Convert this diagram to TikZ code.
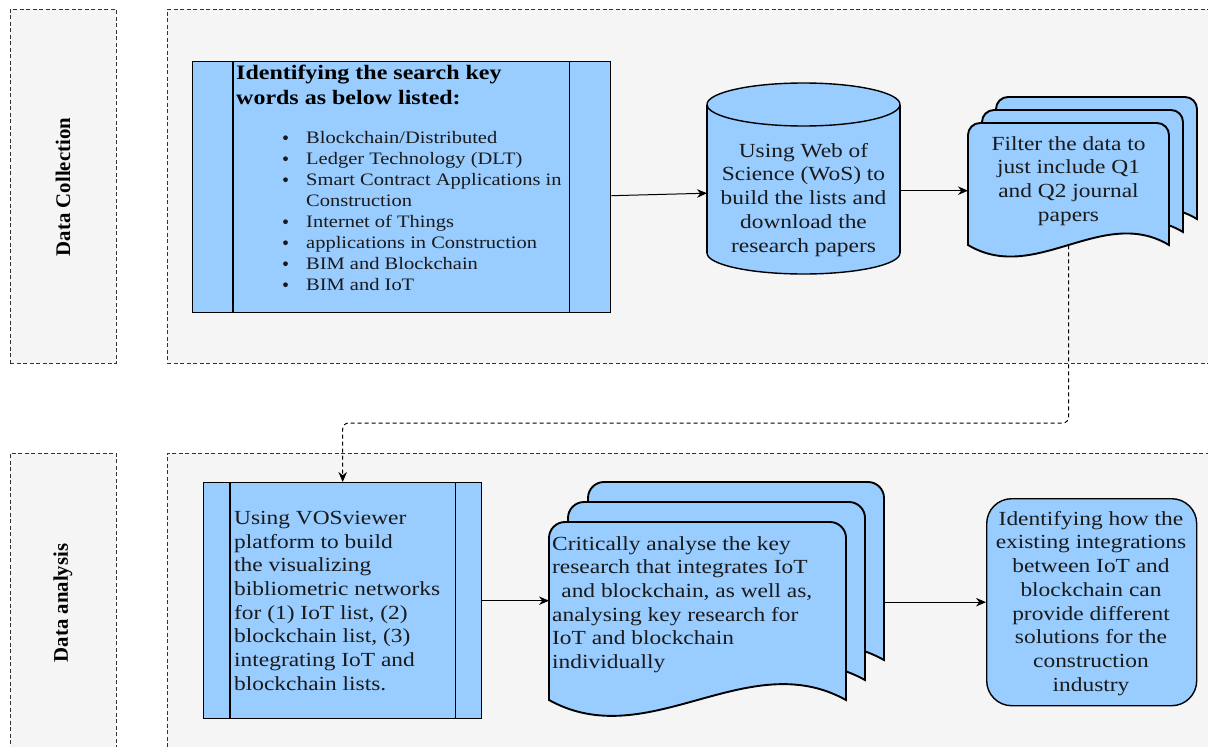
\documentclass[tikz,border=0pt]{standalone}
\usepackage{fontspec}
\setmainfont{Liberation Serif}[FakeStretch=1.17]
\newfontfamily\lanefont{Liberation Serif}
\usetikzlibrary{arrows.meta}
\definecolor{boxblue}{HTML}{99CCFF}
\definecolor{lanebg}{HTML}{F5F5F5}
\definecolor{lanedraw}{HTML}{333333}
\definecolor{txt}{HTML}{1A1A1A}
% x0 y0 x1 y1 wave radius
\newcommand\docshape[6]{%
  \path[docstyle] ({#1},{#4}) -- ({#1},{#2+#6})
    .. controls ({#1},{#2+0.45*#6}) and ({#1+0.45*#6},{#2}) .. ({#1+#6},{#2})
    -- ({#3-#6},{#2})
    .. controls ({#3-0.45*#6},{#2}) and ({#3},{#2+0.45*#6}) .. ({#3},{#2+#6})
    -- ({#3},{#4})
    .. controls ({#3-(#3-#1)/3},{#4-#5}) and ({#1+(#3-#1)/3},{#4+#5}) .. ({#1},{#4})
    -- cycle;}
\begin{document}
\begin{tikzpicture}[x=1pt,y=-1pt,
  lane/.style={draw=lanedraw, fill=lanebg, dash pattern=on 4pt off 2.5pt, line width=0.9pt, inner sep=0, anchor=north west},
  shapeline/.style={draw=black, fill=boxblue, line width=1.4pt, inner sep=0},
  docstyle/.style={draw=black, fill=boxblue, line width=1.9pt},
  frame/.style={inner sep=0, anchor=north west},
  flow/.style={draw=black, line width=1pt, -{Stealth[length=10pt,width=8.5pt]}},
  dashconn/.style={draw=black, line width=1pt, dash pattern=on 4pt off 3pt, rounded corners=6pt, -{Stealth[length=10pt,width=8.5pt]}},
  body/.style={inner sep=0, text=txt, font=\fontsize{20}{23.7}\selectfont},
  lanelabel/.style={rotate=90, inner sep=0, font=\lanefont\bfseries\fontsize{20.8}{25}\selectfont},
  bulletdot/.style={fill=txt}
]
\useasboundingbox (0,0) rectangle (1208,747);
\fill[white] (0,0) rectangle (1208,747);

% lanes
\node[lane, minimum width=106pt, minimum height=354pt] (lane1) at (10,9) {};
\node[lane, minimum width=1060pt, minimum height=354pt] (pool1) at (167,9) {};
\node[lane, minimum width=106pt, minimum height=320pt] (lane2) at (10,453) {};
\node[lane, minimum width=1060pt, minimum height=320pt] (pool2) at (167,453) {};
\node[lanelabel] (lab1) at (63,187) {Data Collection};
\node[lanelabel] (lab2) at (63,603) {Data analysis};

% box 1
\node[shapeline, minimum width=418pt, minimum height=251pt, anchor=north west] (box1) at (192,61) {};
\draw[line width=1.4pt] ([xshift=41pt]box1.north west) -- ([xshift=41pt]box1.south west);
\draw[line width=1.4pt] ([xshift=-42pt]box1.north east) -- ([xshift=-42pt]box1.south east);
\node[body, anchor=north west, align=left, font=\bfseries\fontsize{20.5}{25}\selectfont, text=black] (box1title) at (236,65) {Identifying the search key\\words as below listed:};
\node[body, anchor=north west, align=left, font=\fontsize{17.5}{21}\selectfont] (box1list) at (306,131) {%
Blockchain/Distributed\\
Ledger Technology (DLT)\\
Smart Contract Applications in\\
Construction\\
Internet of Things\\
applications in Construction\\
BIM and Blockchain\\
BIM and IoT};
\foreach \yy in {137.7,158.7,179.7,221.7,242.7,263.7,284.7}
  \fill[bulletdot] (285.5,\yy) circle (2.4);

% cylinder
\node[frame, minimum width=193pt, minimum height=191pt] (cyl) at (707,83) {};
\filldraw[fill=boxblue, draw=black, line width=1.4pt] (803.5,253) ellipse (96.5 and 21);
\fill[boxblue] (707,104.5) rectangle (900,253);
\draw[line width=1.4pt] (707,104.5) -- (707,253) (900,104.5) -- (900,253);
\filldraw[fill=boxblue, draw=black, line width=1.4pt] (803.5,104.5) ellipse (96.5 and 21.5);
\node[body, anchor=north, align=center] (cyltext) at (803.5,143) {Using Web of\\Science (WoS) to\\build the lists and\\download the\\research papers};

% multi document (top)
\docshape{996}{97}{1197}{219}{40}{12}
\docshape{982}{110}{1183}{232}{40}{12}
\docshape{968}{123}{1169}{245}{40}{12}
\node[frame, minimum width=201pt, minimum height=122pt] (fdoc) at (968,123) {};
\node[frame, minimum width=201pt, minimum height=122pt] (bdoc) at (996,97) {};
\node[body, anchor=north, align=center] (fdoctext) at (1068.5,136) {Filter the data to\\just include Q1\\and Q2 journal\\papers};

% box 2
\node[shapeline, minimum width=278pt, minimum height=236pt, anchor=north west] (box2) at (203,482) {};
\draw[line width=1.4pt] ([xshift=27pt]box2.north west) -- ([xshift=27pt]box2.south west);
\draw[line width=1.4pt] ([xshift=-27pt]box2.north east) -- ([xshift=-27pt]box2.south east);
\node[body, anchor=north west, align=left] (box2text) at (234,511) {Using VOSviewer\\platform to build\\the visualizing\\bibliometric networks\\for (1) IoT list, (2)\\blockchain list, (3)\\integrating IoT and\\blockchain lists.};

% multi document (bottom)
\docshape{588}{482}{884}{660}{55}{16}
\docshape{568}{502}{865}{680}{55}{16}
\docshape{549}{522}{846}{700}{55}{16}
\node[frame, minimum width=297pt, minimum height=178pt] (fdoc2) at (549,522) {};
\node[frame, minimum width=296pt, minimum height=178pt] (bdoc2) at (588,482) {};
\node[body, anchor=north west, align=left] (fdoc2text) at (552,536) {Critically analyse the key\\research that integrates IoT\\\ \,and blockchain, as well as,\\analysing key research for\\IoT and blockchain\\individually};

% rounded box
\node[shapeline, rounded corners=25pt, minimum width=210pt, minimum height=207pt, anchor=north west] (rbox) at (986,498) {};
\node[body, anchor=north, align=center] (rboxtext) at (1091,511) {Identifying how the\\existing integrations\\between IoT and\\blockchain can\\provide different\\solutions for the\\construction\\industry};

% connectors
\draw[flow] ([yshift=-8.5pt]box1.east) -- ([yshift=-14.5pt]cyl.west);
\draw[flow] ([yshift=-12pt]cyl.east) -- ([yshift=-12pt]cyl.east -| fdoc.west);
\coordinate (bend) at (700,423);
\draw[dashconn] (fdoc.south) |- (bend) -| (box2.north);
\draw[flow] (box2.east) -- (box2.east -| fdoc2.west);
\draw[flow] (bdoc2.east |- rbox.west) -- (rbox.west);
\end{tikzpicture}
\end{document}
